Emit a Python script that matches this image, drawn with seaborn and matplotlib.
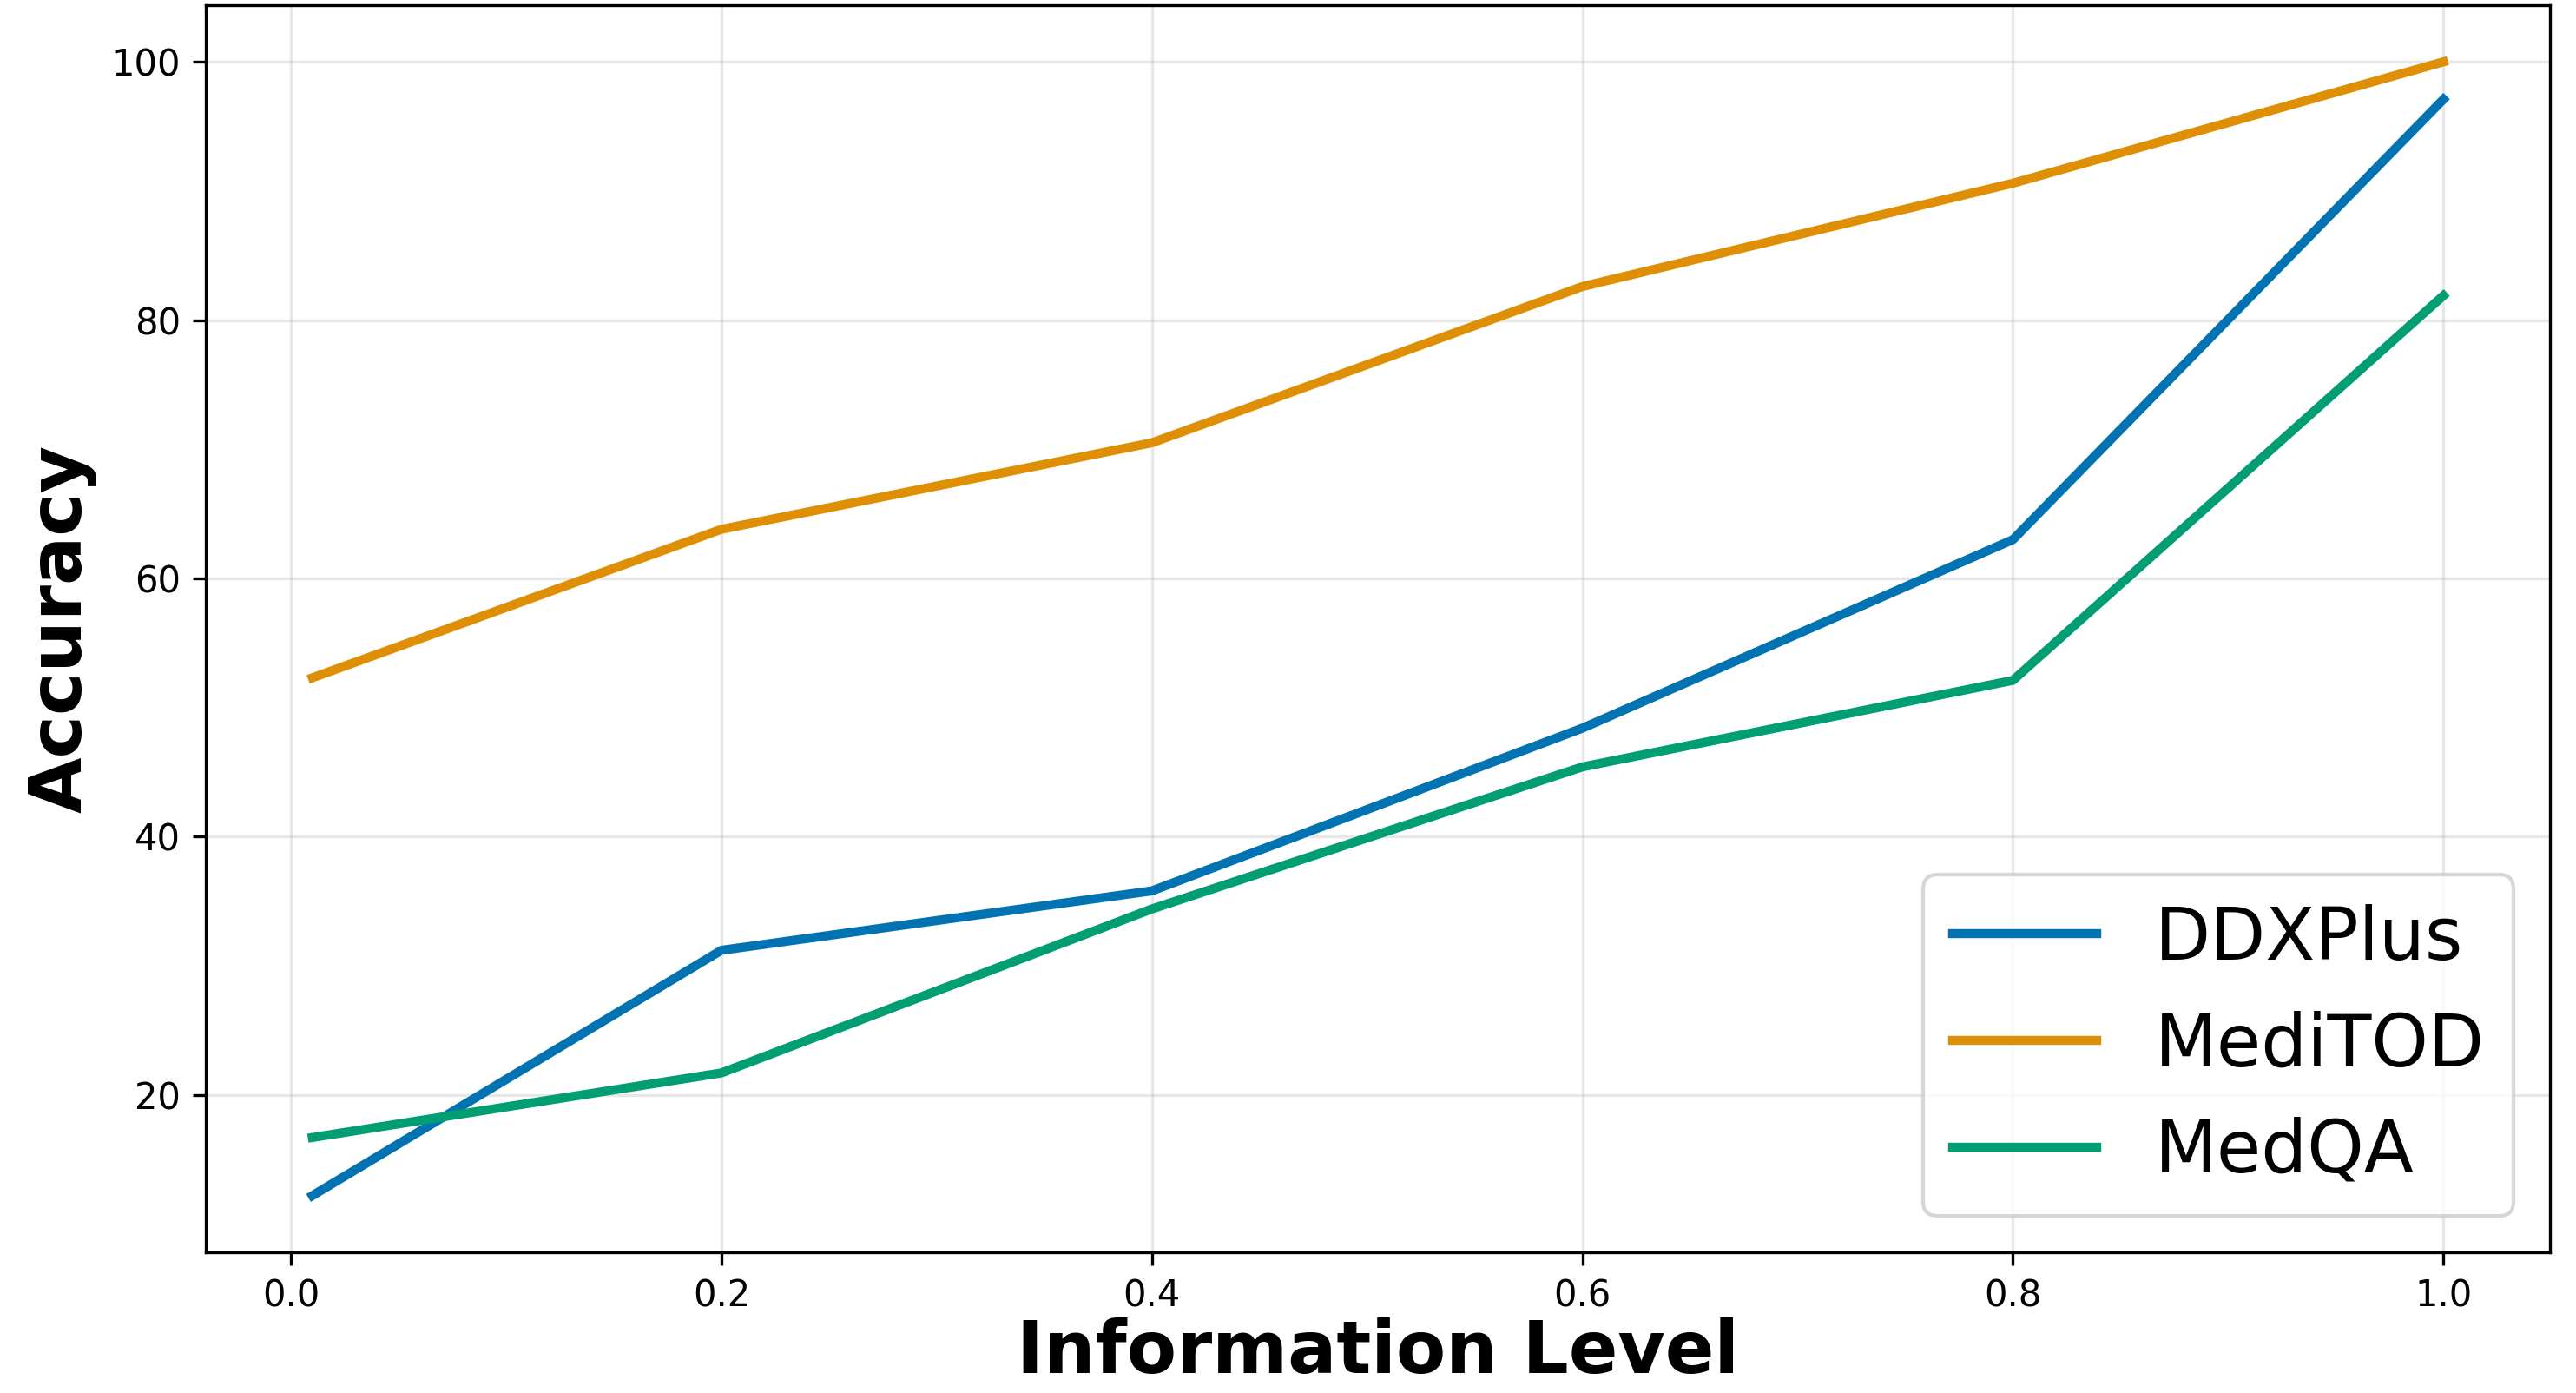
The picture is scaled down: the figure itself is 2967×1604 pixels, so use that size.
import matplotlib
matplotlib.use("Agg")
import matplotlib.pyplot as plt
import pandas as pd
import seaborn as sns

# ---------- data ----------
info_levels = [0.01, 0.2, 0.4, 0.6, 0.8, 1.0]
datasets = ["DDXPlus", "MediTOD", "MedQA"]
ddxplus = [12.2, 31.2, 35.8, 48.4, 63.0, 97.1]
meditod = [52.3, 63.8, 70.5, 82.6, 90.6, 100.0]
medqa = [16.7, 21.7, 34.4, 45.4, 52.1, 81.9]

rows = []
for name, vals in zip(datasets, [ddxplus, meditod, medqa]):
    for x, y in zip(info_levels, vals):
        rows.append({"Information Level": x, "Accuracy": y, "Dataset": name})
df = pd.DataFrame(rows)

# ---------- plot ----------
palette = sns.color_palette("colorblind", 3)
fig, ax = plt.subplots(figsize=(2967 / 300, 1604 / 300), dpi=300)
fig.subplots_adjust(left=0.0799, right=0.9899, top=0.9963, bottom=0.101)

sns.lineplot(data=df, x="Information Level", y="Accuracy", hue="Dataset",
             hue_order=datasets, palette=palette, linewidth=2.5, ax=ax)

ax.grid(True, alpha=0.3)
ax.set_xlabel("Information Level", fontsize=20, fontweight="bold", labelpad=1)
ax.set_ylabel("Accuracy", fontsize=20, fontweight="bold")
ax.tick_params(labelsize=10)
ax.legend(loc="lower right", fontsize=20)

fig.savefig("out.png", dpi=300)
plt.close()
